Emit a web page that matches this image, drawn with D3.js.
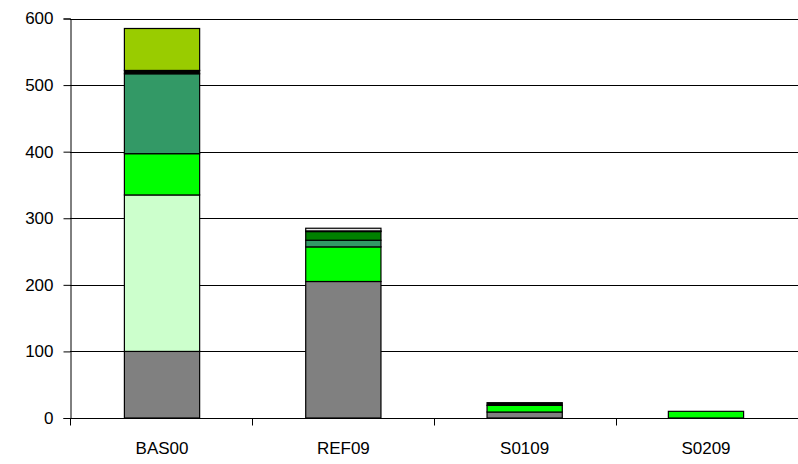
<!DOCTYPE html>
<html>
<head>
<meta charset="utf-8">
<script src="https://cdn.jsdelivr.net/npm/d3@7"></script>
<style>
  html, body { margin: 0; padding: 0; background: #fff; }
  svg { display: block; font-family: "Liberation Sans", Arial, sans-serif; }
</style>
</head>
<body>
<svg id="chart" width="798" height="464"></svg>
<script>
// Scenario categories along the x axis
const categories = ["BAS00", "REF09", "S0109", "S0209"];

// Stacked component values per scenario, bottom to top
const seriesNames = ["grey", "paleGreen", "brightGreen", "seaGreen", "darkGreen", "black", "lightTop", "lime"];
const greyValues        = [100, 205, 9, 0];
const paleGreenValues   = [235, 0, 0, 0];
const brightGreenValues = [62, 52, 10, 10];
const seaGreenValues    = [120, 10, 0, 0];
const darkGreenValues   = [0, 13, 0, 0];
const blackValues       = [5, 1, 4, 0];
const lightTopValues    = [0, 4, 0, 0];
const limeValues        = [63, 0, 0, 0];

const seriesColors = ["#808080", "#CCFFCC", "#00FF00", "#339966", "#008000", "#000000", "#E8E8E8", "#99CC00"];

// Y axis ticks
const yTicks = [0, 100, 200, 300, 400, 500, 600];

const valuesBySeries = [greyValues, paleGreenValues, brightGreenValues, seaGreenValues,
                        darkGreenValues, blackValues, lightTopValues, limeValues];
const table = categories.map((c, i) => {
  const row = { category: c };
  seriesNames.forEach((s, j) => { row[s] = valuesBySeries[j][i]; });
  return row;
});

const svg = d3.select("#chart");
const margin = { left: 70, right: 0, top: 18.5, bottom: 46 };
const W = 798, H = 464;
const x = d3.scaleBand().domain(categories).range([margin.left, W - margin.right]).paddingInner(0.585).paddingOuter(0.3);
const y = d3.scaleLinear().domain([0, 600]).range([H - margin.bottom, margin.top]);

// Horizontal gridlines
svg.append("g")
  .selectAll("line")
  .data(yTicks.filter(d => d > 0))
  .join("line")
  .attr("x1", margin.left).attr("x2", W)
  .attr("y1", d => Math.round(y(d)) + 0.5).attr("y2", d => Math.round(y(d)) + 0.5)
  .attr("stroke", "#000").attr("stroke-width", 1);

// Stacked bars
const stack = d3.stack().keys(seriesNames);
const layers = stack(table);
svg.append("g")
  .selectAll("g")
  .data(layers)
  .join("g")
  .attr("fill", (d, i) => seriesColors[i])
  .selectAll("rect")
  .data(d => d.filter(s => s[1] - s[0] > 0))
  .join("rect")
  .attr("x", d => x(d.data.category))
  .attr("width", x.bandwidth())
  .attr("y", d => y(d[1]))
  .attr("height", d => y(d[0]) - y(d[1]))
  .attr("stroke", "#000")
  .attr("stroke-width", 1.2);

// Y axis
const yAxis = d3.axisLeft(y).tickValues(yTicks).tickSize(7).tickPadding(10);
const gy = svg.append("g")
  .attr("transform", `translate(${margin.left + 0.5},0)`)
  .call(yAxis);
gy.selectAll("text").attr("font-size", 17).attr("fill", "#000").attr("font-family", "Liberation Sans, Arial, sans-serif");
gy.select(".domain").attr("stroke", "#000");
gy.selectAll(".tick line").attr("stroke", "#000");

// X axis with ticks at band boundaries
const baseY = Math.round(y(0)) + 0.5;
const gx = svg.append("g");
gx.append("line")
  .attr("x1", margin.left).attr("x2", W)
  .attr("y1", baseY).attr("y2", baseY)
  .attr("stroke", "#000");
const boundaries = d3.range(categories.length).map(i => margin.left + i * (W - margin.left) / categories.length);
gx.selectAll("line.tick")
  .data(boundaries)
  .join("line")
  .attr("class", "tick")
  .attr("x1", d => Math.round(d) + 0.5).attr("x2", d => Math.round(d) + 0.5)
  .attr("y1", baseY).attr("y2", baseY + 7)
  .attr("stroke", "#000");
gx.selectAll("text")
  .data(categories)
  .join("text")
  .attr("x", d => x(d) + x.bandwidth() / 2)
  .attr("y", baseY + 35)
  .attr("text-anchor", "middle")
  .attr("font-size", 17)
  .attr("fill", "#000")
  .text(d => d);
</script>
</body>
</html>
